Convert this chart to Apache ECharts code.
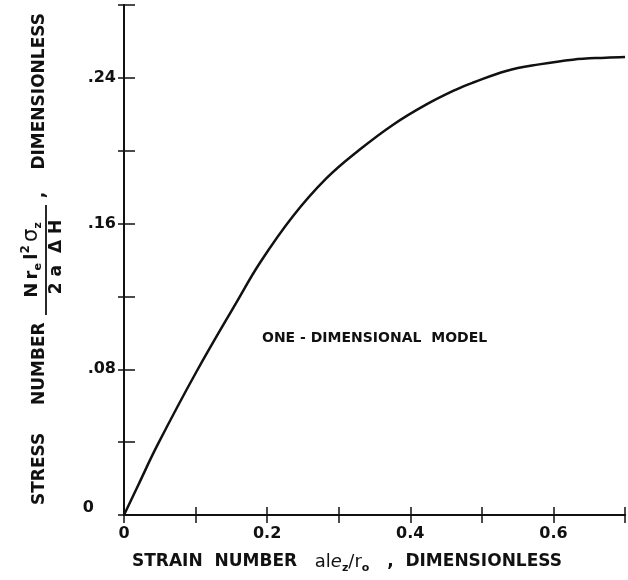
<!DOCTYPE html>
<html>
<head>
<meta charset="UTF-8">
<title>Stress number vs strain number</title>
<script src="https://cdn.jsdelivr.net/npm/echarts@6/dist/echarts.min.js"></script>
<style>html,body{margin:0;padding:0;background:#fff;}</style>
</head>
<body>
<div id="main" style="width: 628px;height:580px;"></div>
<script type="text/javascript">
// values
var strain = [0, 0.02, 0.047, 0.101, 0.159, 0.19, 0.236, 0.283, 0.329, 0.376, 0.422, 0.464, 0.487, 0.534, 0.58, 0.627, 0.673, 0.7];
var stress = [0, 0.0165, 0.0386, 0.0785, 0.118, 0.1385, 0.164, 0.1849, 0.2005, 0.2143, 0.2253, 0.2336, 0.2373, 0.2438, 0.2474, 0.25, 0.2511, 0.2515];

var xTickValues = [0, 0.2, 0.4, 0.6];
var xTickLabels = ['0', '0.2', '0.4', '0.6'];
var yTickValues = [0, 0.08, 0.16, 0.24];
var yTickLabels = ['0', '.08', '.16', '.24'];
var noteText = 'ONE - DIMENSIONAL  MODEL';

function pickLabel(values, labels, v) {
    for (var i = 0; i < values.length; i++) {
        if (Math.abs(values[i] - v) < 1e-6) return labels[i];
    }
    return '';
}

var ink = '#111';
var font = 'DejaVu Sans';
var myChart = echarts.init(document.getElementById('main'));

var frameLine = { lineStyle: { color: ink, width: 2 } };
var sub = { fontFamily: font, fontWeight: 'bold', fontSize: 11, lineHeight: 11, verticalAlign: 'bottom', fill: ink, color: ink };
var sup = { fontFamily: font, fontWeight: 'bold', fontSize: 12, lineHeight: 12, verticalAlign: 'top', fill: ink, color: ink };
var big = { fontFamily: font, fontWeight: 'bold', fontSize: 17, lineHeight: 24, fill: ink, color: ink };
var math = { fontFamily: font, fontSize: 18, lineHeight: 24, fill: ink, color: ink };
var mathBold = { fontFamily: font, fontWeight: 'bold', fontSize: 18, lineHeight: 24, fill: ink, color: ink };

var option = {
    animation: false,
    grid: { left: 124, right: -2, top: 5, bottom: 65 },
    xAxis: [{
        type: 'value', min: 0, max: 0.7, interval: 0.1, position: 'bottom',
        axisLine: frameLine,
        axisTick: { inside: true, length: 8, lineStyle: { color: ink, width: 1.5 } },
        axisLabel: {
            margin: 11, color: ink, fontFamily: font, fontWeight: 'bold', fontSize: 16,
            formatter: function (v) { return pickLabel(xTickValues, xTickLabels, v); }
        },
        splitLine: { show: false }
    }, {
        type: 'value', min: 0, max: 0.7, interval: 0.1, position: 'top',
        axisLine: frameLine,
        axisTick: { inside: true, length: 8, lineStyle: { color: ink, width: 1.5 } },
        axisLabel: { show: false },
        splitLine: { show: false }
    }],
    yAxis: [{
        type: 'value', min: 0, max: 0.28, interval: 0.04, position: 'left',
        axisLine: frameLine,
        axisTick: { inside: true, length: 11, lineStyle: { color: ink, width: 1.5 } },
        axisLabel: {
            margin: 8, color: ink, fontFamily: font, fontWeight: 'bold', fontSize: 16,
            formatter: function (v) {
                var s = pickLabel(yTickValues, yTickLabels, v);
                return v === 0 ? '{z|' + s + '}' : s;
            },
            rich: { z: { fontFamily: font, fontWeight: 'bold', fontSize: 16, color: ink, padding: [0, 22, 14, 0] } }
        },
        splitLine: { show: false }
    }, {
        type: 'value', min: 0, max: 0.28, interval: 0.04, position: 'right',
        axisLine: frameLine,
        axisTick: { inside: true, length: 6, lineStyle: { color: ink, width: 1.5 } },
        axisLabel: { show: false },
        splitLine: { show: false }
    }],
    series: [{
        type: 'line',
        data: strain.map(function (x, i) { return [x, stress[i]]; }),
        smooth: 0.4,
        symbol: 'none',
        lineStyle: { color: ink, width: 2.5 }
    }],
    graphic: [
        {
            type: 'text', left: 132, top: 553,
            style: {
                text: '{t|STRAIN  NUMBER   }{m|a}{m|l}{e|e}{s|z}{m|/}{m|r}{s|o}{t|   ,  DIMENSIONLESS}',
                rich: { t: big, m: math, e: { fontFamily: font, fontStyle: 'italic', fontSize: 18, lineHeight: 24, fill: ink }, s: sub }
            }
        },
        {
            type: 'text', left: 262, top: 331,
            style: { text: noteText, font: 'bold 14px DejaVu Sans', fill: ink }
        },
        {
            type: 'group', x: 40, y: 505, rotation: Math.PI / 2,
            children: [
                { type: 'text', x: 0, y: 0, style: { text: 'STRESS', font: 'bold 17px DejaVu Sans', fill: ink, align: 'left', verticalAlign: 'middle' } },
                { type: 'text', x: 100, y: 0, style: { text: 'NUMBER', font: 'bold 17px DejaVu Sans', fill: ink, align: 'left', verticalAlign: 'middle' } },
                { type: 'text', x: 245, y: 4, style: {
                    text: '{b|N} {m|r}{s|e} {m|l}{p|2} {g|σ}{s|z}', align: 'center', verticalAlign: 'bottom',
                    rich: { b: mathBold, m: mathBold, s: sub, p: sup, g: { fontFamily: font, fontSize: 21, lineHeight: 24, fill: ink } }
                } },
                { type: 'line', shape: { x1: 190, y1: 6, x2: 300, y2: 6 }, style: { stroke: ink, lineWidth: 1.8 } },
                { type: 'text', x: 248, y: 8, style: { text: '2 a  Δ H', font: 'bold 17px DejaVu Sans', fill: ink, align: 'center', verticalAlign: 'top' } },
                { type: 'text', x: 310, y: 0, style: { text: ',', font: 'bold 17px DejaVu Sans', fill: ink, align: 'center', verticalAlign: 'middle' } },
                { type: 'text', x: 492, y: 0, style: { text: 'DIMENSIONLESS', font: 'bold 17px DejaVu Sans', fill: ink, align: 'right', verticalAlign: 'middle' } }
            ]
        }
    ]
};

myChart.setOption(option);
</script>
</body>
</html>
